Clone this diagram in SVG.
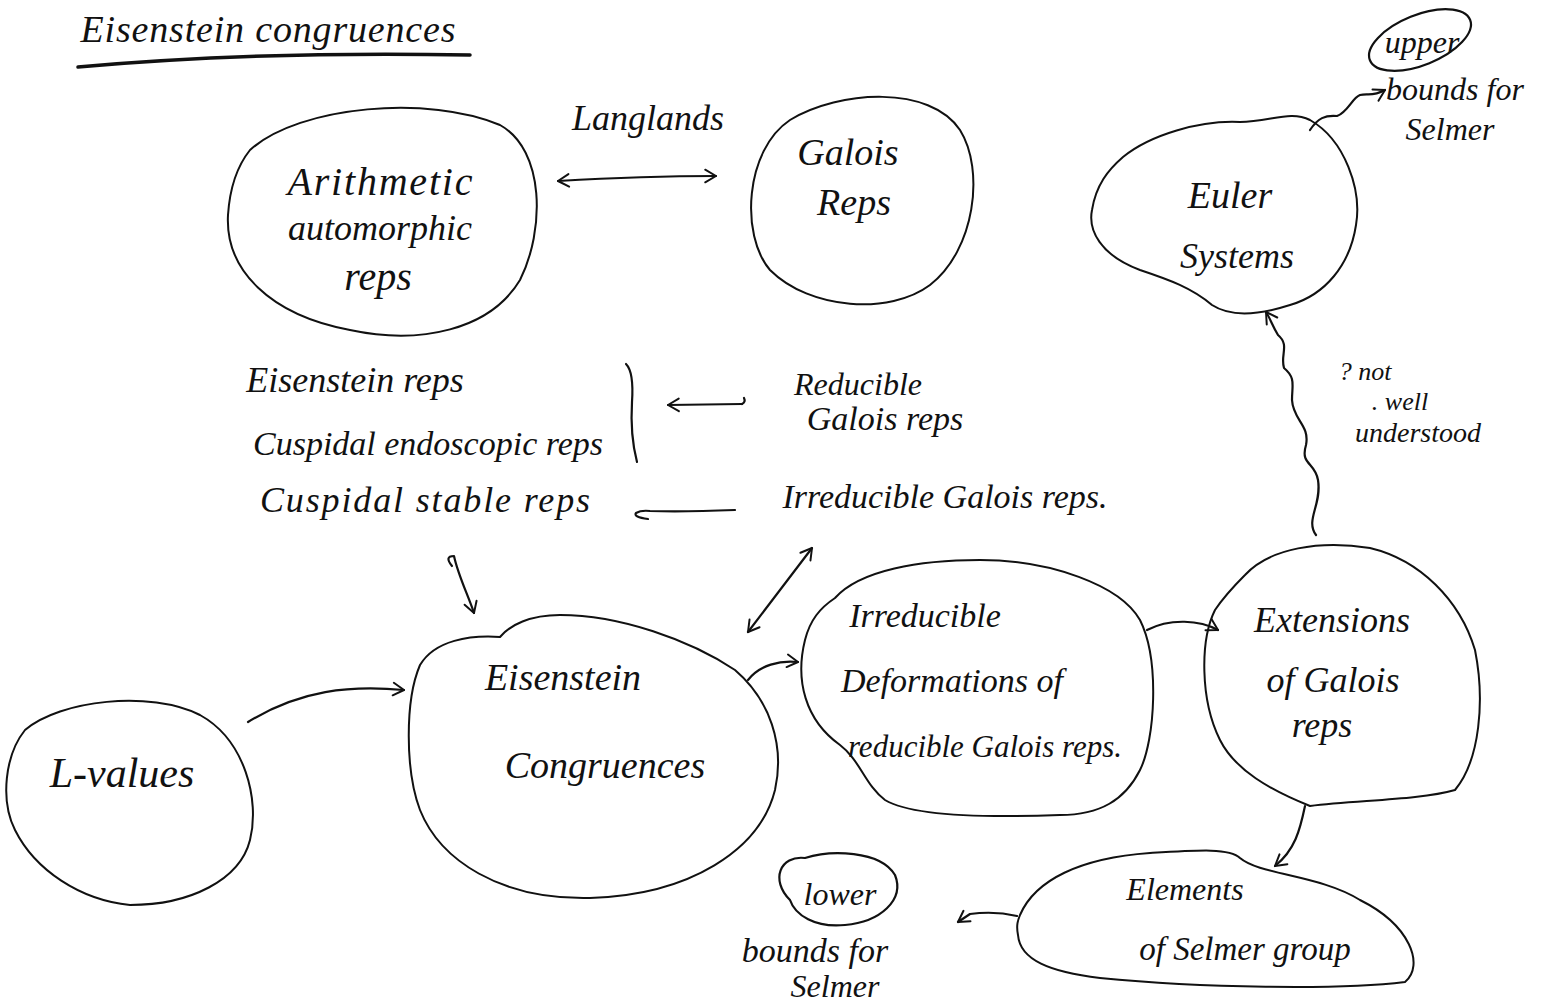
<svg xmlns="http://www.w3.org/2000/svg" width="1551" height="1003" viewBox="0 0 1551 1003">
<defs>
<style>
.blob{fill:none;stroke:#111;stroke-width:2;stroke-linecap:round;stroke-linejoin:round}
.con{fill:none;stroke:#111;stroke-width:2.2;stroke-linecap:round;stroke-linejoin:round}
.t{font-family:"Liberation Serif","DejaVu Serif",serif;font-style:italic;fill:#111;text-anchor:middle}
</style>
<marker id="ah" viewBox="0 0 20 20" refX="16" refY="10" markerWidth="18" markerHeight="18" markerUnits="userSpaceOnUse" orient="auto-start-reverse">
<path d="M4,3 L16,10 L4,17" fill="none" stroke="#111" stroke-width="2.2" stroke-linecap="round" stroke-linejoin="round"/>
</marker>
</defs>
<rect width="1551" height="1003" fill="#fff"/>

<g id="title">
<text class="t" x="268" y="42" font-size="38" textLength="375">Eisenstein congruences</text>
<path d="M78,67 C180,58 320,52 470,55" fill="none" stroke="#111" stroke-width="3.5" stroke-linecap="round"/>
</g>

<g id="arithmetic">
<path class="blob" d="M250,150 C300,105 430,95 500,125 C545,150 545,230 520,280 C490,330 420,345 350,330 C270,315 225,270 228,215 C230,185 238,165 250,150 Z"/>
<text class="t" x="380" y="195" font-size="40" textLength="185">Arithmetic</text>
<text class="t" x="380" y="240" font-size="36">automorphic</text>
<text class="t" x="378" y="290" font-size="40">reps</text>
</g>

<g id="galois">
<path class="blob" d="M790,120 C840,90 930,85 960,130 C985,170 975,250 930,285 C890,315 810,310 770,270 C740,235 745,150 790,120 Z"/>
<text class="t" x="848" y="165" font-size="38">Galois</text>
<text class="t" x="854" y="215" font-size="38">Reps</text>
</g>

<g id="euler">
<path class="blob" d="M1123,157 C1150,135 1200,120 1240,122 C1270,122 1290,110 1310,120 C1345,140 1362,190 1356,225 C1350,265 1325,295 1290,305 C1262,314 1232,318 1212,305 C1192,288 1170,280 1140,270 C1100,255 1088,230 1092,210 C1096,185 1108,170 1123,157 Z"/>
<text class="t" x="1230" y="208" font-size="38">Euler</text>
<text class="t" x="1237" y="268" font-size="36">Systems</text>
</g>

<g id="upper-bounds">
<ellipse cx="1420" cy="40" rx="54" ry="25" transform="rotate(-22 1420 40)" fill="none" stroke="#111" stroke-width="2.2"/>
<text class="t" x="1422" y="53" font-size="32">upper</text>
<text class="t" x="1455" y="100" font-size="32">bounds for</text>
<text class="t" x="1450" y="140" font-size="32">Selmer</text>
</g>

<g id="langlands">
<text class="t" x="648" y="130" font-size="36">Langlands</text>
</g>

<g id="eisenstein-list">
<text class="t" x="355" y="392" font-size="36">Eisenstein reps</text>
<text class="t" x="428" y="455" font-size="34">Cuspidal endoscopic reps</text>
<text class="t" x="425" y="512" font-size="36" textLength="330">Cuspidal stable reps</text>
<path class="con" d="M626,364 Q634,372 632,402 Q630,435 637,462"/>
</g>

<g id="reducible">
<text class="t" x="858" y="395" font-size="32">Reducible</text>
<text class="t" x="885" y="430" font-size="34">Galois reps</text>
</g>

<g id="irreducible-galois">
<text class="t" x="945" y="508" font-size="34">Irreducible Galois reps.</text>
</g>

<g id="not-understood">
<text class="t" x="1365" y="380" font-size="26">? not</text>
<text class="t" x="1400" y="410" font-size="26">. well</text>
<text class="t" x="1418" y="442" font-size="28">understood</text>
</g>

<g id="eisenstein-congruences">
<path class="blob" d="M420,665 C435,640 470,635 500,637 C510,625 530,615 560,615 C620,615 690,640 735,670 C770,700 785,745 775,790 C760,850 690,895 590,898 C500,900 440,860 420,810 C405,770 405,700 420,665 Z"/>
<text class="t" x="563" y="690" font-size="38">Eisenstein</text>
<text class="t" x="605" y="778" font-size="38">Congruences</text>
</g>

<g id="l-values">
<path class="blob" d="M25,730 C60,700 150,690 200,715 C245,740 260,800 250,840 C240,880 190,905 130,905 C80,900 35,870 15,830 C0,800 5,755 25,730 Z"/>
<text class="t" x="122" y="787" font-size="42">L-values</text>
</g>

<g id="irreducible-deformations">
<path class="blob" d="M835,598 C860,570 920,560 980,560 C1050,560 1120,585 1140,620 C1160,660 1155,740 1140,770 C1125,800 1100,815 1060,815 C980,818 910,815 885,800 C865,785 860,760 840,745 C805,720 795,680 805,640 C810,620 820,608 835,598 Z"/>
<text class="t" x="925" y="627" font-size="34">Irreducible</text>
<text class="t" x="952" y="692" font-size="34">Deformations of</text>
<text class="t" x="985" y="757" font-size="31">reducible Galois reps.</text>
</g>

<g id="extensions">
<path class="blob" d="M1245,575 C1270,548 1320,540 1370,548 C1420,560 1460,600 1475,650 C1485,700 1480,760 1455,790 C1420,800 1360,800 1310,806 C1270,790 1235,770 1220,740 C1200,700 1200,640 1215,610 C1225,595 1235,585 1245,575 Z"/>
<text class="t" x="1332" y="632" font-size="36">Extensions</text>
<text class="t" x="1333" y="692" font-size="36">of Galois</text>
<text class="t" x="1322" y="737" font-size="36">reps</text>
</g>

<g id="selmer">
<path class="blob" d="M1020,915 C1035,880 1080,858 1150,853 C1200,850 1230,848 1240,858 C1260,875 1320,875 1360,900 C1410,925 1425,965 1405,982 C1340,990 1200,988 1100,978 C1050,972 1020,960 1018,935 C1016,925 1018,920 1020,915 Z"/>
<text class="t" x="1185" y="900" font-size="32">Elements</text>
<text class="t" x="1245" y="960" font-size="33">of Selmer group</text>
</g>

<g id="lower-bounds">
<path d="M790,900 C770,880 780,855 805,858 C830,850 880,850 895,875 C905,900 880,922 845,925 C815,928 795,915 790,900 Z" fill="none" stroke="#111" stroke-width="2.2"/>
<text class="t" x="840" y="905" font-size="32">lower</text>
<text class="t" x="815" y="962" font-size="34">bounds for</text>
<text class="t" x="835" y="997" font-size="32">Selmer</text>
</g>

<g id="connectors">
<path class="con" d="M558,181 C610,178 670,176 716,176" marker-start="url(#ah)" marker-end="url(#ah)"/>
<path class="con" d="M668,405 L742,404" marker-start="url(#ah)"/>
<path class="con" d="M742,404 q4,-2 2,-6"/>
<path class="con" d="M648,519 q-15,-2 -12,-6 q5,-3 14,-2 C680,512 710,511 735,510"/>
<path class="con" d="M452,566 q-8,-10 2,-10 C458,575 468,595 474,613" marker-end="url(#ah)"/>
<path class="con" d="M748,632 L812,548" marker-start="url(#ah)" marker-end="url(#ah)"/>
<path class="con" d="M248,722 C300,690 350,685 404,690" marker-end="url(#ah)"/>
<path class="con" d="M748,680 C760,665 780,660 798,662" marker-end="url(#ah)"/>
<path class="con" d="M1147,630 C1170,618 1200,620 1218,630" marker-end="url(#ah)"/>
<path class="con" d="M1305,806 C1300,830 1295,850 1275,866" marker-end="url(#ah)"/>
<path class="con" d="M1017,916 C1000,912 985,912 970,914 L958,922" marker-end="url(#ah)"/>
<path class="con" d="M1316,535 C1305,520 1322,505 1318,480 C1315,462 1300,465 1306,445 C1310,425 1293,420 1292,400 C1292,385 1296,378 1284,368 C1280,355 1290,345 1278,335 C1272,325 1270,318 1266,312" marker-end="url(#ah)"/>
<path class="con" d="M1310,130 C1318,118 1325,115 1337,116 C1348,112 1352,98 1360,95 C1368,93 1372,97 1385,90" marker-end="url(#ah)"/>
</g>
</svg>
